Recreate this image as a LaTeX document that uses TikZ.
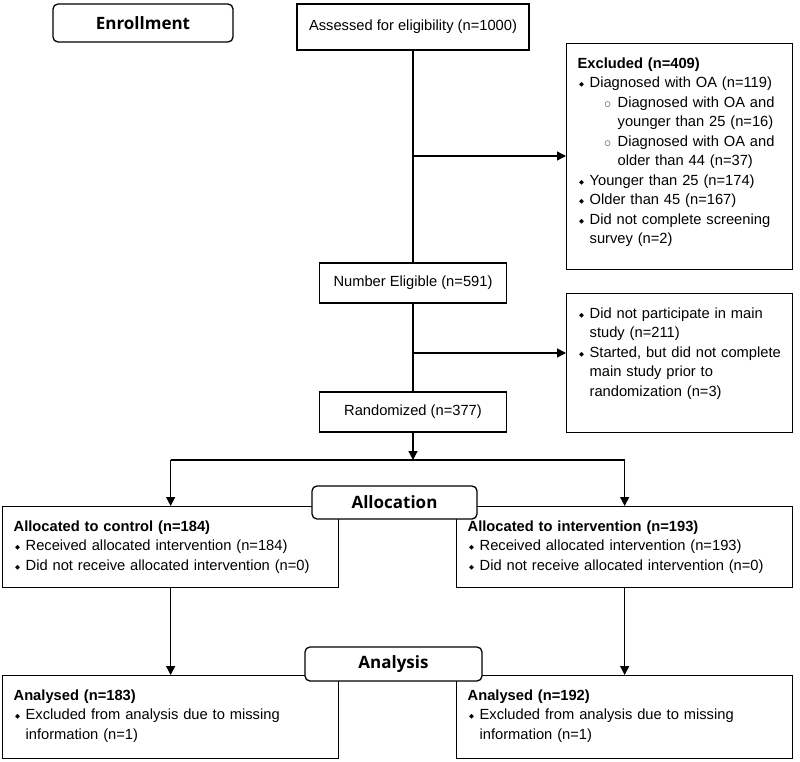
\documentclass[tikz,border=0pt]{standalone}
\usepackage{fontspec}
\setmainfont{Liberation Sans}
\newfontfamily\hdfont{Open Sans}
\newfontfamily\symfont{DejaVu Sans}
\usetikzlibrary{arrows.meta}

% list bullets
\newcommand{\dmd}{\makebox[12pt][l]{\hspace{1.5pt}\raisebox{1pt}{\symfont\fontsize{6.5}{6.5}\selectfont ◆}}}
\newcommand{\opn}{\makebox[13pt][l]{\raisebox{1pt}{\symfont\fontsize{7}{7}\selectfont ○}}}
\newcommand{\fitem}{\noindent\hangindent=12pt\hangafter=1\dmd}
\newcommand{\bitem}{\par\fitem}
\newcommand{\sitem}{\par\noindent\hangindent=40pt\hangafter=1\hspace*{27pt}\opn}

\tikzset{
  stage/.style={draw,line width=1.3pt,fill=white,rounded corners=5pt,
    font=\hdfont\bfseries\fontsize{17}{20}\selectfont},
  mainbox/.style={draw,line width=1.3pt,fill=white,align=center,
    font=\fontsize{14.7}{19.5}\selectfont},
  listbox/.style={draw,line width=1.3pt,fill=white,anchor=north west,
    inner xsep=11pt,inner ysep=14pt,align=left,text height=10.5pt,
    font=\fontsize{14.7}{19.5}\selectfont,
    execute at begin node={\parindent=0pt\hyphenpenalty=10000}},
  arr/.style={line width=1.3pt,-{Triangle[length=9pt,width=9pt]}},
  ln/.style={line width=1.3pt}
}

\begin{document}
\begin{tikzpicture}[x=1pt,y=-1pt]
  \useasboundingbox (0,0) rectangle (800,762);
  \node[stage,minimum width=180pt,minimum height=38pt] (enrol) at (143,23) {Enrollment};
  \node[mainbox,minimum width=232pt,minimum height=46pt] (assess) at (413,27) {Assessed for eligibility (n=1000)};
  \node[listbox,text width=204pt,text depth=187.5pt] (excl) at (566,43) {\textbf{Excluded (n=409)}
    \bitem Diagnosed with OA (n=119)
    \sitem Diagnosed with OA and\newline younger than 25 (n=16)
    \sitem Diagnosed with OA and\newline older than 44 (n=37)
    \bitem Younger than 25 (n=174)
    \bitem Older than 45 (n=167)
    \bitem Did not complete screening\newline survey (n=2)\par};
  \node[mainbox,minimum width=187pt,minimum height=40pt] (elig) at (413,283) {Number Eligible (n=591)};
  \node[listbox,text width=204pt,text depth=100.5pt] (drop) at (566,293) {\fitem Did not participate in main\newline study (n=211)
    \bitem Started, but did not complete\newline main study prior to\newline randomization (n=3)\par};
  \node[mainbox,minimum width=187pt,minimum height=40pt] (rand) at (413,412) {Randomized (n=377)};
  \node[listbox,text width=314pt,text depth=42.5pt] (ctrl) at (2,506) {\textbf{Allocated to control (n=184)}
    \bitem Received allocated intervention (n=184)
    \bitem Did not receive allocated intervention (n=0)\par};
  \node[listbox,text width=314pt,text depth=42.5pt] (intv) at (456,506) {\textbf{Allocated to intervention (n=193)}
    \bitem Received allocated intervention (n=193)
    \bitem Did not receive allocated intervention (n=0)\par};
  \node[listbox,text width=314pt,text depth=44.5pt] (anc) at (2,675) {\textbf{Analysed (n=183)}
    \bitem Excluded from analysis due to missing\newline information (n=1)\par};
  \node[listbox,text width=314pt,text depth=44.5pt] (ani) at (456,675) {\textbf{Analysed (n=192)}
    \bitem Excluded from analysis due to missing\newline information (n=1)\par};
  \coordinate (j1) at (413,156);
  \coordinate (j2) at (413,353);
  \coordinate (split) at (413,460);
  \draw[ln] (assess) to (elig);
  \draw[arr] (j1) to (j1 -| excl.west);
  \draw[ln] (elig) to (rand);
  \draw[arr] (j2) to (j2 -| drop.west);
  \draw[arr] (rand) to (split);
  \draw[ln] (split -| ctrl.north) to (split -| intv.north);
  \draw[arr] (split -| ctrl.north) to (ctrl.north);
  \draw[arr] (split -| intv.north) to (intv.north);
  \draw[arr] (ctrl) to (anc);
  \draw[arr] (intv) to (ani);
  \node[stage,minimum width=165pt,minimum height=33pt] (alloc) at (394.5,502.5) {Allocation};
  \node[stage,minimum width=177pt,minimum height=34pt] (anal) at (393.5,664) {Analysis};
\end{tikzpicture}
\end{document}
